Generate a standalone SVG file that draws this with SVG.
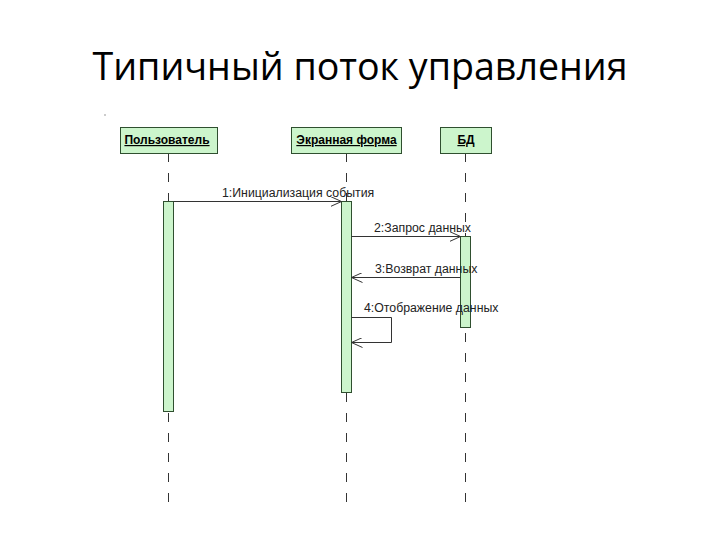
<svg xmlns="http://www.w3.org/2000/svg" width="720" height="540" viewBox="0 0 720 540">
<defs>
<style>
.title{font-family:"Open Sans","Noto Sans",sans-serif;font-size:39px;fill:#000}
.obj rect{fill:#ccf5cc;stroke:#2f4f2f;stroke-width:1}
.obj text{font-family:"Liberation Sans",Arial,sans-serif;font-size:12px;font-weight:bold;fill:#000;text-decoration:underline;text-anchor:middle}
.life{stroke:#333;stroke-width:1;stroke-dasharray:9 11;fill:none}
.act{fill:#ccf5cc;stroke:#2f4f2f;stroke-width:1}
.msg{stroke:#333;stroke-width:1;fill:none}
.lbl{font-family:"Liberation Sans",Arial,sans-serif;font-size:12.3px;fill:#222}
</style>
<marker id="oa" viewBox="0 0 12 10" refX="11" refY="5" markerWidth="12" markerHeight="10" markerUnits="userSpaceOnUse" orient="auto">
<polyline points="0,0 11,5 0,10" fill="none" stroke="#333" stroke-width="1"/>
</marker>
</defs>
<rect width="720" height="540" fill="#fff"/>
<text class="title" x="360" y="80" text-anchor="middle" textLength="535" lengthAdjust="spacingAndGlyphs">Типичный поток управления</text>
<rect x="104" y="114" width="2" height="2" fill="#ccc"/>

<g id="lifelines">
<line class="life" x1="168.5" y1="153" x2="168.5" y2="505"/>
<line class="life" x1="346.5" y1="153" x2="346.5" y2="505"/>
<line class="life" x1="465.5" y1="153" x2="465.5" y2="505"/>
</g>

<g id="user" class="obj">
<rect x="120.5" y="127.5" width="97" height="26"/>
<text x="167" y="144">Пользователь</text>
</g>
<g id="form" class="obj">
<rect x="291.5" y="127.5" width="110" height="26"/>
<text x="346.5" y="144">Экранная форма</text>
</g>
<g id="db" class="obj">
<rect x="440.5" y="127.5" width="51" height="26"/>
<text x="466" y="144">БД</text>
</g>

<g id="activations">
<rect class="act" x="163.5" y="201.5" width="10" height="210"/>
<rect class="act" x="341.5" y="201.5" width="10" height="191"/>
<rect class="act" x="460.5" y="236.5" width="10" height="91"/>
</g>

<g id="connectors">
<line class="msg" x1="173.5" y1="201.5" x2="341.5" y2="201.5" marker-end="url(#oa)"/>
<line class="msg" x1="351.5" y1="236.5" x2="460.5" y2="236.5" marker-end="url(#oa)"/>
<line class="msg" x1="460.5" y1="277.5" x2="351.5" y2="277.5" marker-end="url(#oa)"/>
<polyline class="msg" points="351.5,317.5 391.5,317.5 391.5,342.5 351.5,342.5" marker-end="url(#oa)"/>
</g>

<g id="labels">
<text class="lbl" x="222" y="197">1:Инициализация события</text>
<text class="lbl" x="374" y="232">2:Запрос данных</text>
<text class="lbl" x="375" y="273">3:Возврат данных</text>
<text class="lbl" x="364" y="312">4:Отображение данных</text>
</g>
</svg>
